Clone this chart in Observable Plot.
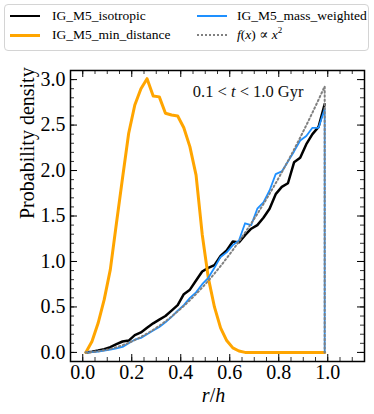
<!DOCTYPE html>
<html><head><meta charset="utf-8">
<script src="https://cdn.jsdelivr.net/npm/d3@7"></script>
<script src="https://cdn.jsdelivr.net/npm/@observablehq/plot@0.6"></script>
<style>
body{margin:0;background:#fff;font-family:"Liberation Serif","DejaVu Serif",serif;color:#000;}
#wrap{position:relative;width:374px;height:414px;overflow:hidden;}
#legend{position:absolute;left:4px;top:4px;width:365px;height:47px;border:1px solid #d4d4d4;border-radius:4px;box-sizing:border-box;}
.lab{position:absolute;font-family:"Liberation Serif","DejaVu Serif",serif;font-size:13.5px;line-height:16px;white-space:nowrap;color:#000;}
.h{position:absolute;width:30px;height:0;}
#chart{position:absolute;left:0;top:56px;}
</style></head><body>
<div id="wrap"><div id="legend"></div><div id="chart"></div></div>
<script>
// ---- data ----
const binCenters = [0.0125,0.0375,0.0625,0.0875,0.1125,0.1375,0.1625,0.1875,0.2125,0.2375,
  0.2625,0.2875,0.3125,0.3375,0.3625,0.3875,0.4125,0.4375,0.4625,0.4875,
  0.5125,0.5375,0.5625,0.5875,0.6125,0.6375,0.6625,0.6875,0.7125,0.7375,
  0.7625,0.7875,0.8125,0.8375,0.8625,0.8875,0.9125,0.9375,0.9625,0.9875];
const isotropic = [0.0,0.008,0.02,0.035,0.058,0.09,0.12,0.13,0.19,0.22,
  0.27,0.32,0.36,0.40,0.46,0.52,0.64,0.69,0.79,0.89,
  0.93,0.96,1.06,1.12,1.22,1.21,1.29,1.36,1.40,1.48,
  1.58,1.74,1.82,1.86,2.09,2.14,2.29,2.40,2.48,2.73];
const minDistance = [0.0,0.12,0.32,0.58,0.91,1.42,1.92,2.41,2.72,2.90,
  3.01,2.82,2.81,2.63,2.61,2.60,2.47,2.26,1.95,1.30,
  0.82,0.50,0.27,0.13,0.05,0.015,0.0,0.0,0.0,0.0,
  0.0,0.0,0.0,0.0,0.0,0.0,0.0,0.0,0.0,0.0];
const massWeighted = [0.0,0.003,0.01,0.02,0.03,0.045,0.06,0.10,0.14,0.16,
  0.20,0.24,0.28,0.33,0.39,0.46,0.52,0.60,0.66,0.75,
  0.82,0.93,1.05,1.10,1.18,1.23,1.42,1.40,1.58,1.65,
  1.78,1.96,1.99,2.10,2.21,2.33,2.38,2.47,2.47,2.68];
const powerLaw = [0.0005,0.0042,0.0117,0.0230,0.0380,0.0567,0.0792,0.1055,0.1355,0.1692,
  0.2067,0.2480,0.2930,0.3417,0.3942,0.4505,0.5105,0.5742,0.6417,0.7130,
  0.7880,0.8667,0.9492,1.0355,1.1255,1.2192,1.3167,1.4180,1.5230,1.6317,
  1.7442,1.8605,1.9805,2.1042,2.2317,2.3630,2.4980,2.6367,2.7792,2.9255];
const xTicks = [0.0,0.2,0.4,0.6,0.8,1.0];
const yTicks = [0.0,0.5,1.0,1.5,2.0,2.5,3.0];
const seriesNames = ["IG_M5_isotropic","IG_M5_min_distance","IG_M5_mass_weighted","f(x) ∝ x²"];
const xLabel = "r/h";
const yLabel = "Probability density";
const annotation = "0.1 < t < 1.0 Gyr";

// ---- legend ----
const legend = document.getElementById("legend");
const legendItems = [
  {name: seriesNames[0], col: 0, row: 0, css: "border-top:2.5px solid #000"},
  {name: seriesNames[1], col: 0, row: 1, css: "border-top:3px solid #FFA500"},
  {name: seriesNames[2], col: 1, row: 0, css: "border-top:2px solid #1E90FF"},
  {name: seriesNames[3], col: 1, row: 1, css: "border-top:2px dotted #808080", html: '<i>f</i>(<i>x</i>) ∝ <i>x</i><sup style="font-size:9px;vertical-align:6px;line-height:0">2</sup>'}
];
const colH = [5, 192], colL = [47, 232], rowY = [11, 30];
for (const it of legendItems) {
  const h = document.createElement("div");
  h.className = "h";
  h.style.cssText = `left:${colH[it.col]}px;top:${rowY[it.row]-1}px;${it.css}`;
  legend.appendChild(h);
  const l = document.createElement("div");
  l.className = "lab";
  l.style.left = colL[it.col] + "px";
  l.style.top = (rowY[it.row] - 8) + "px";
  if (it.html) l.innerHTML = it.html; else l.textContent = it.name;
  legend.appendChild(l);
}

// ---- plot ----
const W = 374, H = 358, mT = 14, mB = 53, mL = 70, mR = 10;
const fw = W - mL - mR, fh = H - mT - mB;
const pts = ys => binCenters.map((x, i) => ({x, y: ys[i]}));
const withDrop = ys => pts(ys).concat([{x: binCenters[binCenters.length - 1], y: 0}]);
const xMinor = d3.range(-0.05, 1.151, 0.05);
const yMinor = d3.range(-0.1, 3.101, 0.1);
const fmt = d => d.toFixed(1);

const plot = Plot.plot({
  width: W, height: H,
  marginTop: mT, marginBottom: mB, marginLeft: mL, marginRight: mR,
  style: {fontFamily: "Liberation Serif, DejaVu Serif, serif", fontSize: "20px", color: "#000", background: "#fff"},
  x: {domain: [-0.05, 1.15]},
  y: {domain: [-0.1, 3.1]},
  marks: [
    Plot.line(pts(isotropic), {x: "x", y: "y", stroke: "#000", strokeWidth: 2.5}),
    Plot.line(withDrop(minDistance), {x: "x", y: "y", stroke: "#FFA500", strokeWidth: 3}),
    Plot.line(withDrop(massWeighted), {x: "x", y: "y", stroke: "#1E90FF", strokeWidth: 1.8}),
    Plot.line(withDrop(powerLaw), {x: "x", y: "y", stroke: "#808080", strokeWidth: 2, strokeDasharray: "1.6,2.6"}),
    Plot.tickX(xMinor, {x: d => d, insetTop: fh - 4, stroke: "#000", strokeWidth: 0.8}),
    Plot.tickX(xMinor, {x: d => d, insetBottom: fh - 4, stroke: "#000", strokeWidth: 0.8}),
    Plot.tickX(xTicks, {x: d => d, insetTop: fh - 7, stroke: "#000", strokeWidth: 1}),
    Plot.tickX(xTicks, {x: d => d, insetBottom: fh - 7, stroke: "#000", strokeWidth: 1}),
    Plot.tickY(yMinor, {y: d => d, insetRight: fw - 4, stroke: "#000", strokeWidth: 0.8}),
    Plot.tickY(yMinor, {y: d => d, insetLeft: fw - 4, stroke: "#000", strokeWidth: 0.8}),
    Plot.tickY(yTicks, {y: d => d, insetRight: fw - 7, stroke: "#000", strokeWidth: 1}),
    Plot.tickY(yTicks, {y: d => d, insetLeft: fw - 7, stroke: "#000", strokeWidth: 1}),
    Plot.axisX(xTicks, {tickSize: 0, tickPadding: 3, tickFormat: fmt, label: null}),
    Plot.axisY(yTicks, {tickSize: 0, tickPadding: 5, tickFormat: fmt, label: null}),
    Plot.frame({stroke: "#000", strokeWidth: 1.5}),
    Plot.text([xLabel], {frameAnchor: "bottom", dx: -4, dy: 40, fontSize: 20, fill: "#000"}),
    Plot.text([yLabel], {frameAnchor: "left", rotate: -90, dx: -43, dy: 3, fontSize: 20, fill: "#000"}),
    Plot.text([annotation], {frameAnchor: "top-right", textAnchor: "end", dx: -61, dy: 15, fontSize: 16.5, fill: "#111"})
  ]
});
document.getElementById("chart").appendChild(plot);

// italic math parts
d3.select(plot).selectAll("text").each(function() {
  const t = this.textContent;
  if (t === xLabel) this.innerHTML = '<tspan font-style="italic">r</tspan>/<tspan font-style="italic">h</tspan>';
  else if (t === annotation) this.innerHTML = '0.1 &lt; <tspan font-style="italic">t</tspan> &lt; 1.0 Gyr';
});
</script>
</body></html>
